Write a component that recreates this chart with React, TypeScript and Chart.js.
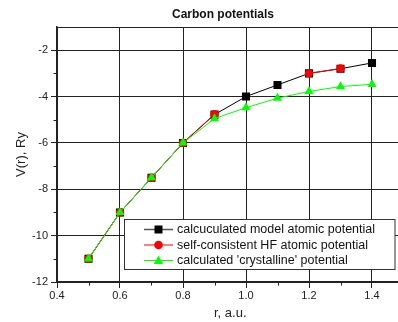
import React, { useEffect, useRef } from 'react';
import { Chart, registerables } from 'chart.js';
Chart.register(...registerables);

const chartTitle = 'Carbon potentials';
const xTitle = 'r, a.u.';
const yTitle = 'V(r), Ry';
const seriesNames = [
  'calcuculated model atomic potential',
  'self-consistent HF atomic potential',
  "calculated 'crystalline' potential",
];
const rValues = [0.5, 0.6, 0.7, 0.8, 0.9, 1.0, 1.1, 1.2, 1.3, 1.4];
const modelAtomic = [-11, -9, -7.5, -6, -4.78, -4.0, -3.5, -3.0, -2.8, -2.55];
const hfAtomic: (number | null)[] = [-11, -9, -7.5, -6, -4.76, null, null, -3.0, -2.79, null];
const crystalline = [-11, -9, -7.5, -6, -4.95, -4.48, -4.07, -3.78, -3.57, -3.47];
const xTicks = [0.4, 0.6, 0.8, 1.0, 1.2, 1.4];
const xMinorTicks = [0.5, 0.7, 0.9, 1.1, 1.3];
const yTicks = [-12, -10, -8, -6, -4, -2];
const yMinorTicks = [-11, -9, -7, -5, -3];

const FONT = '"Liberation Sans", Arial, sans-serif';
const AXIS = '#222';

function drawMarker(ctx: CanvasRenderingContext2D, kind: string, x: number, y: number, color: string) {
  ctx.fillStyle = color;
  ctx.beginPath();
  if (kind === 'rect') {
    ctx.rect(x - 4, y - 4, 8, 8);
  } else if (kind === 'circle') {
    ctx.arc(x, y, 4.3, 0, Math.PI * 2);
  } else {
    const r = 5.3;
    ctx.moveTo(x, y - r * 0.75 - 1);
    ctx.lineTo(x + r * 0.866, y + r * 0.75 - 1 + 0.5);
    ctx.lineTo(x - r * 0.866, y + r * 0.75 - 1 + 0.5);
    ctx.closePath();
  }
  ctx.fill();
}

const overlay = {
  id: 'overlay',
  afterDraw(chart: any) {
    const { ctx, chartArea: a, scales } = chart;
    const x = scales.x;
    const y = scales.y;
    ctx.save();
    ctx.strokeStyle = AXIS;
    ctx.lineWidth = 1;
    // top border line
    ctx.beginPath();
    ctx.moveTo(a.left, Math.round(a.top) + 0.5);
    ctx.lineTo(a.right, Math.round(a.top) + 0.5);
    ctx.stroke();
    // minor ticks
    ctx.beginPath();
    for (const v of xMinorTicks) {
      const px = Math.round(x.getPixelForValue(v)) + 0.5;
      ctx.moveTo(px, a.bottom);
      ctx.lineTo(px, a.bottom + 3.5);
    }
    for (const v of yMinorTicks) {
      const py = Math.round(y.getPixelForValue(v)) + 0.5;
      ctx.moveTo(a.left - 3.5, py);
      ctx.lineTo(a.left, py);
    }
    ctx.stroke();
    // title
    ctx.fillStyle = '#111';
    ctx.font = `bold 12px ${FONT}`;
    ctx.textAlign = 'center';
    ctx.textBaseline = 'middle';
    ctx.fillText(chartTitle, 223, 15);
    // legend
    const bx = 124.5, by = 219.5, bw = 270.5, bh = 50;
    ctx.fillStyle = '#fff';
    ctx.fillRect(bx, by, bw, bh);
    ctx.strokeStyle = '#333';
    ctx.lineWidth = 1;
    ctx.strokeRect(bx, by, bw, bh);
    const rows = [229.5, 245, 260.5];
    const lineColors = ['#555', '#ff0000', '#00ff00'];
    const markColors = ['#000', '#ff0000', '#00ff00'];
    const kinds = ['rect', 'circle', 'triangle'];
    ctx.font = `12.5px ${FONT}`;
    ctx.textAlign = 'left';
    for (let i = 0; i < 3; i++) {
      const ry = rows[i];
      ctx.strokeStyle = lineColors[i];
      ctx.lineWidth = i === 0 ? 1.5 : 1;
      ctx.beginPath();
      ctx.moveTo(144, ry);
      ctx.lineTo(173, ry);
      ctx.stroke();
      drawMarker(ctx, kinds[i], 158.5, ry, markColors[i]);
      ctx.fillStyle = '#111';
      ctx.fillText(seriesNames[i], 177, ry + 0.5);
    }
    ctx.restore();
  },
};

export default function App() {
  const ref = useRef<HTMLCanvasElement>(null);
  useEffect(() => {
    if (!ref.current) return;
    const mk = (ys: (number | null)[]) => rValues.map((r, i) => ({ x: r, y: ys[i] }));
    const chart = new Chart(ref.current, {
      type: 'line',
      data: {
        datasets: [
          {
            label: seriesNames[0],
            data: mk(modelAtomic),
            borderColor: '#000',
            backgroundColor: '#000',
            borderWidth: 1,
            pointStyle: 'rect',
            pointRadius: 5.7,
            pointBorderWidth: 0,
            order: 2,
          },
          {
            label: seriesNames[1],
            data: mk(hfAtomic),
            borderColor: '#ff0000',
            backgroundColor: '#ff0000',
            borderWidth: 1,
            pointStyle: 'circle',
            pointRadius: 4.2,
            pointBorderWidth: 0,
            spanGaps: false,
            order: 1,
          },
          {
            label: seriesNames[2],
            data: mk(crystalline),
            borderColor: '#00ff00',
            backgroundColor: '#00ff00',
            borderWidth: 1,
            pointStyle: 'triangle',
            pointRadius: 5.3,
            pointBorderWidth: 0,
            order: 0,
          },
        ],
      },
      options: {
        responsive: false,
        animation: false,
        layout: { padding: { left: 0, top: 27, right: 6.5, bottom: 0 } },
        plugins: {
          legend: { display: false },
          title: { display: false },
          tooltip: { enabled: false },
        },
        scales: {
          x: {
            type: 'linear',
            min: 0.4,
            max: 1.5,
            afterBuildTicks: (s: any) => {
              s.ticks = xTicks.map((v) => ({ value: v }));
            },
            afterFit: (s: any) => {
              s.height = 40;
            },
            grid: { color: AXIS, lineWidth: 1, tickLength: 6, tickColor: AXIS },
            border: { display: true, color: AXIS, width: 2 },
            ticks: {
              color: '#222',
              font: { family: FONT, size: 11 },
              padding: 1,
              maxRotation: 0,
              callback: (v: any) => Number(v).toFixed(1),
            },
            title: {
              display: true,
              text: xTitle,
              color: '#222',
              font: { family: FONT, size: 13 },
              padding: { top: 0, bottom: 1 },
            },
          },
          y: {
            type: 'linear',
            min: -12,
            max: -1,
            afterBuildTicks: (s: any) => {
              s.ticks = yTicks.map((v) => ({ value: v }));
            },
            afterFit: (s: any) => {
              s.width = 57;
            },
            grid: { color: AXIS, lineWidth: 1, tickLength: 6, tickColor: AXIS },
            border: { display: true, color: AXIS, width: 1.5 },
            ticks: {
              color: '#222',
              font: { family: FONT, size: 11 },
              padding: 3,
              callback: (v: any) => String(v),
            },
            title: {
              display: true,
              text: yTitle,
              color: '#222',
              font: { family: FONT, size: 13 },
              padding: { top: 14, bottom: 0 },
            },
          },
        },
      },
      plugins: [overlay],
    });
    return () => chart.destroy();
  }, []);
  return (
    <div style={{ position: 'fixed', left: 0, top: 0, width: 398, height: 322, overflow: 'hidden', background: '#fff' }}>
      <canvas ref={ref} width={410} height={322} style={{ display: 'block', width: 410, height: 322 }} />
    </div>
  );
}
